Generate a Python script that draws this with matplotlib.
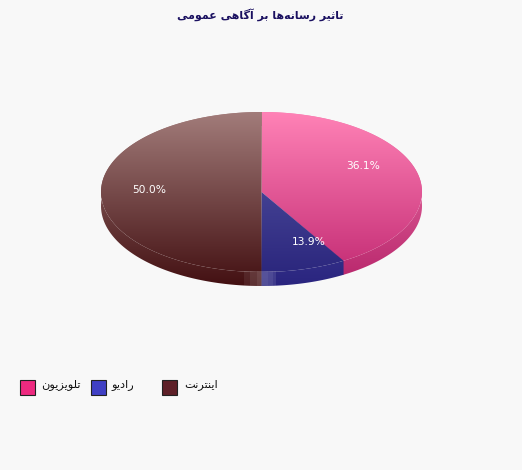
import numpy as np
import matplotlib
matplotlib.use('Agg')
import matplotlib.pyplot as plt
from matplotlib.patches import Polygon, Rectangle, Ellipse

title = 'تاثیر رسانه\u200cها بر آگاهی عمومی'
names = ['تلویزیون', 'رادیو', 'اینترنت']
values = [36.1, 13.9, 50.0]
pct_labels = ['36.1%', '13.9%', '50.0%']

top_colors = ['#ff82b6', '#5a5aa8', '#a27c7a']
bottom_colors = ['#c02670', '#28237a', '#431012']
side_shades = [0.95, 1.04, 1.0]
legend_colors = ['#ee2a80', '#4040c4', '#5e2028']
legend_x = [20, 91, 162]
legend_text_x = [81, 134, 218]

W, H = 522, 470
cx, cy = 261.5, 192
rx, ry = 160.5, 80
depth = 14

# matplotlib does no arabic shaping, so pick presentation forms by hand
# (isolated, final, initial, medial)
forms = {
    'ا': [0xFE8D, 0xFE8E], 'آ': [0xFE81, 0xFE82], 'د': [0xFEA9, 0xFEAA],
    'ر': [0xFEAD, 0xFEAE], 'ز': [0xFEAF, 0xFEB0], 'و': [0xFEED, 0xFEEE],
    'ب': [0xFE8F, 0xFE90, 0xFE91, 0xFE92], 'ت': [0xFE95, 0xFE96, 0xFE97, 0xFE98],
    'ث': [0xFE99, 0xFE9A, 0xFE9B, 0xFE9C], 'س': [0xFEB1, 0xFEB2, 0xFEB3, 0xFEB4],
    'ع': [0xFEC9, 0xFECA, 0xFECB, 0xFECC], 'گ': [0xFB92, 0xFB93, 0xFB94, 0xFB95],
    'ل': [0xFEDD, 0xFEDE, 0xFEDF, 0xFEE0], 'م': [0xFEE1, 0xFEE2, 0xFEE3, 0xFEE4],
    'ن': [0xFEE5, 0xFEE6, 0xFEE7, 0xFEE8], 'ه': [0xFEE9, 0xFEEA, 0xFEEB, 0xFEEC],
    'ی': [0xFBFC, 0xFBFD, 0xFBFE, 0xFBFF],
}


def shape(s):
    out = []
    for i, c in enumerate(s):
        if c == '\u200c':
            continue
        if c not in forms:
            out.append(c)
            continue
        prev = s[i - 1] if i > 0 else ''
        nxt = s[i + 1] if i + 1 < len(s) else ''
        from_prev = prev in forms and len(forms[prev]) == 4
        to_next = len(forms[c]) == 4 and nxt in forms
        idx = {(False, False): 0, (True, False): 1, (False, True): 2, (True, True): 3}[(from_prev, to_next)]
        out.append(chr(forms[c][idx]))
    return ''.join(out[::-1])


def arc_points(a0, a1, dy=0):
    # angles are true screen angles, the ray is cut off by the ellipse
    t = np.radians(np.linspace(a0, a1, 200))
    r = 1 / np.sqrt((np.sin(t) / rx) ** 2 + (np.cos(t) / ry) ** 2)
    return np.column_stack([cx + r * np.sin(t), cy - r * np.cos(t) + dy])


def gradient(c0, c1, clip, shade=1.0, y0=cy - ry, y1=cy + ry + depth):
    c0 = np.clip(np.array(matplotlib.colors.to_rgb(c0)) * shade, 0, 1)
    c1 = np.clip(np.array(matplotlib.colors.to_rgb(c1)) * shade, 0, 1)
    f = np.linspace(0, 1, 256)[:, None, None]
    img = c0[None, None, :] * (1 - f) + c1[None, None, :] * f
    im = ax.imshow(img, extent=(cx - rx - 2, cx + rx + 2, y1, y0), aspect='auto', zorder=clip.get_zorder())
    im.set_clip_path(clip)


fig = plt.figure(figsize=(W / 100, H / 100), dpi=100, facecolor='#f8f8f8')
ax = fig.add_axes([0, 0, 1, 1])
ax.axis('off')

edges = np.concatenate([[0], np.cumsum(values)]) / np.sum(values) * 360

# side band swept down from the rim, then the top face over it
for i in range(len(values)):
    arc = arc_points(edges[i], edges[i + 1] + 0.3)
    low = arc_points(edges[i], edges[i + 1] + 0.3, depth)
    side = Polygon(np.vstack([arc, low[::-1]]), closed=True, fc='none', ec='none', zorder=2)
    ax.add_patch(side)
    gradient(top_colors[i], bottom_colors[i], side, shade=side_shades[i])

    face = Polygon(np.vstack([[cx, cy], arc]), closed=True, fc='none', ec='none', zorder=3 + i * 0.1)
    ax.add_patch(face)
    gradient(top_colors[i], bottom_colors[i], face)

# lighter blocks on the bottom rim
rim = Ellipse((cx, cy + depth), 2 * rx, 2 * ry, fc='none', ec='none', zorder=4)
ax.add_patch(rim)
for x0, x1, a in [(244, 250, 0.07), (250, 257, 0.14), (257, 262, 0.2), (262, 268, 0.2), (268, 273, 0.16), (273, 276, 0.1)]:
    r = Rectangle((x0, 271), x1 - x0, 16, fc='white', ec='none', alpha=a, zorder=4)
    ax.add_patch(r)
    r.set_clip_path(rim)

mids = (edges[:-1] + edges[1:]) / 2
for m, lab in zip(mids, pct_labels):
    t = np.radians(m)
    ax.text(cx + 112 * np.sin(t), 190 - 57 * np.cos(t), lab, color='white', fontsize=7.7,
            ha='center', va='center', zorder=5)

ax.text(260.5, 15, shape(title), color='#1a1060', fontsize=7.9, fontweight='bold',
        ha='center', va='center', family='DejaVu Sans')

for name, col, x, tx in zip(names, legend_colors, legend_x, legend_text_x):
    ax.add_patch(Rectangle((x, 380), 15, 15, fc=col, ec='#222222', lw=0.8))
    ax.text(tx, 385, shape(name), color='#111111', fontsize=8.2, ha='right', va='center', family='DejaVu Sans')

ax.set_xlim(0, W)
ax.set_ylim(H, 0)
fig.savefig('out.png', dpi=100, facecolor=fig.get_facecolor())
